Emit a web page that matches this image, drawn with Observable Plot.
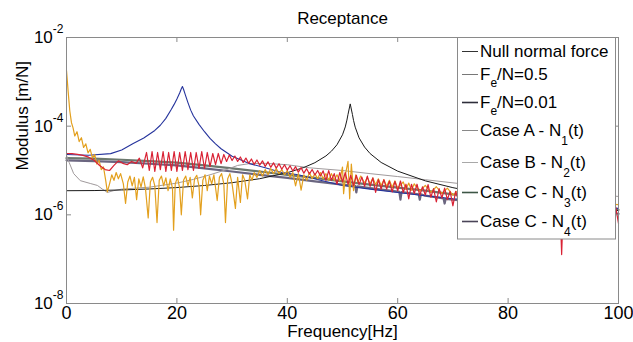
<!DOCTYPE html>
<html><head><meta charset="utf-8">
<script src="https://cdn.jsdelivr.net/npm/d3@7"></script>
<script src="https://cdn.jsdelivr.net/npm/@observablehq/plot@0.6"></script>
<style>
html,body{margin:0;padding:0;background:#fff;}
#chart{width:633px;height:342px;}
</style></head><body><div id="chart"></div>
<script>
// ---- data: [frequency Hz, modulus m/N] ----
const nullNormalForce = [[0,3.5e-6],[5,3.53e-6],[10,3.64e-6],[15,3.83e-6],[20,4.12e-6],[25,4.59e-6],[30,5.31e-6],[35,6.53e-6],[40,8.9e-6],[43,1.17e-5],[45,1.5e-5],[47,2.13e-5],[48,2.73e-5],[49,3.81e-5],[50,6.39e-5],[50.5,9.6e-5],[50.8,1.37e-4],[51,1.85e-4],[51.4,3.18e-4],[51.8,1.83e-4],[52,1.35e-4],[52.3,9.5e-5],[53,5.45e-5],[54,3.37e-5],[55,2.41e-5],[57,1.52e-5],[60,9.67e-6],[65,5.84e-6],[70,4.1e-6],[75,3.1e-6],[80,2.46e-6],[90,1.69e-6],[100,1.25e-6]];
const fe05 = [[0,2.2e-5],[0.5,1.5e-5],[1.3,8.5e-6],[2.5,5.9e-6],[4.3,5.1e-6],[5.6,4.6e-6],[6.5,3.8e-6],[7.4,3.2e-6],[8.5,3.5e-6],[10,3.8e-6],[15,4.2e-6],[20,5.2e-6],[23,6.3e-6],[26,8.0e-6],[29,1.05e-5],[31,1.3e-5],[33,1.42e-5],[36,1.45e-5],[40,1.35e-5],[44,1.15e-5],[50,1.0e-5],[55,8.5e-6],[60,7.3e-6],[65,6.2e-6],[71,5.1e-6],[80,4.0e-6],[90,3.2e-6],[100,2.6e-6]];
const fe001 = [[0,2.3e-5],[4,2.2e-5],[8,2.4e-5],[10,2.9e-5],[12,4.0e-5],[14,5.4e-5],[16,8.0e-5],[17,1.05e-4],[18,1.5e-4],[19,2.4e-4],[19.5,3.1e-4],[20,4.1e-4],[20.5,5.6e-4],[20.8,7.0e-4],[21,7.85e-4],[21.2,6.8e-4],[21.5,5.2e-4],[22,3.4e-4],[22.5,2.3e-4],[23,1.7e-4],[24,1.1e-4],[25,7.5e-5],[26,5.3e-5],[27,4.0e-5],[28,3.1e-5],[30,2.1e-5],[33,1.45e-5],[36,1.15e-5],[39,9.0e-6],[42,8.0e-6],[46,6.0e-6],[50,4.6e-6],[55,3.8e-6],[60,3.2e-6],[65,2.7e-6],[70,2.3e-6],[80,1.9e-6],[90,1.6e-6],[100,1.4e-6]];
const caseA = [[0,2.42e-5],[1,2.4e-5],[2,2.3e-5],[3,2.2e-5],[4,2.0e-5],[5,1.7e-5],[6,1.3e-5],[7,1.05e-5],[7.8,1.0e-5],[8.6,1.3e-5],[9.4,1.65e-5],[10.2,1.45e-5],[11,1.35e-5],[11.8,1.6e-5],[12.6,1.45e-5],[13.2,1.9e-5],[13.8,1.15e-5],
[14.5,2.55e-5],[15,1.0e-5],[15.5,2.68e-5],[16,9.5e-6],[16.5,2.55e-5],[17,1.05e-5],[17.5,2.68e-5],[18,9.5e-6],[18.5,2.55e-5],[19,1.0e-5],[19.5,2.68e-5],[20,9.5e-6],[20.5,2.55e-5],[21,1.0e-5],[21.5,2.68e-5],[22,1.05e-5],[22.5,2.55e-5],[23,1.0e-5],[23.5,2.55e-5],[24,1.11e-5],[24.5,2.68e-5],[25,1.11e-5],[25.5,2.55e-5],[26,1.23e-5],[26.5,2.42e-5],[27,1.36e-5],[27.5,2.42e-5],[28,1.43e-5],[28.5,2.3e-5],[29,1.6e-5],
[29.5,2.23e-5],[30,1.68e-5],[30.5,2.12e-5],[31,1.6e-5],[31.5,2.02e-5],[32,1.51e-5],[32.5,1.91e-5],[33,1.45e-5],[33.5,1.82e-5],[34,1.37e-5],[34.5,1.73e-5],[35,1.31e-5],[35.5,1.65e-5],[36,1.24e-5],[36.5,1.57e-5],[37,1.18e-5],[37.5,1.49e-5],[38,1.13e-5],[38.5,1.42e-5],[39,1.07e-5],[39.5,1.35e-5],[40,1.02e-5],[40.5,1.28e-5],[41,9.7e-6],[41.5,1.22e-5],[42,9.2e-6],[42.5,1.16e-5],[43,8.7e-6],[43.5,1.1e-5],[44,8.3e-6],[44.5,1.05e-5],[45,7.9e-6],[45.5,1.0e-5],[46,7.5e-6],
[46.5,9.8e-6],[47,6.0e-6],[47.5,9.9e-6],[48,6.0e-6],[48.5,8.5e-6],[49,4.9e-6],[49.5,9.0e-6],[50,5.5e-6],[50.5,9.0e-6],[51,4.9e-6],[51.5,7.8e-6],[52,4.5e-6],[52.5,7.8e-6],[53,4.8e-6],[53.5,7.1e-6],[54,4.4e-6],[54.5,7.5e-6],[55,4.4e-6],[55.5,6.8e-6],[56,3.2e-6],[56.5,6.2e-6],[57,3.8e-6],[57.5,6.2e-6],[58,3.8e-6],[58.5,5.7e-6],[59,3.3e-6],[59.5,5.7e-6],[60,3.5e-6],[60.5,5.8e-6],[61,3.2e-6],[61.5,4.9e-6],[62,2.3e-6],[62.5,4.9e-6],[63,3.0e-6],[63.5,4.9e-6],[64,2.75e-6],[64.5,4.3e-6],[65,2.8e-6],[65.5,4.8e-6],[66,2.5e-6],[66.5,3.9e-6],[67,1.95e-6],[67.5,3.9e-6],[68,2.4e-6],[68.5,4.0e-6],[69,2.2e-6],[69.5,3.4e-6],[70,1.6e-6],[70.5,3.4e-6],[71,2.1e-6],
[72,2.8e-6],[74,2.6e-6],[76,2.4e-6],[78,2.3e-6],[80,2.2e-6],[82,2.1e-6],[84,2.0e-6],[86,1.9e-6],[88,1.8e-6],[89.4,1.8e-6],[89.7,1.27e-7],[90,1.7e-6],[92,1.65e-6],[94,1.6e-6],[96,1.55e-6],[98,1.5e-6],[99.5,1.5e-6],[100,6.4e-7]];
const caseB = [[0,1.8e-3],[0.3,6.0e-4],[0.6,2.2e-4],[0.9,1.2e-4],[1.2,9.0e-5],[1.5,6.0e-5],[1.9,7.5e-5],[2.3,4.5e-5],[2.7,5.5e-5],[3.1,3.3e-5],[3.5,4.0e-5],[3.9,2.5e-5],[4.3,3.0e-5],[4.7,1.9e-5],[5.1,2.3e-5],[5.5,1.4e-5],[5.9,1.7e-5],[6.3,1.05e-5],[6.7,1.2e-5],[7.1,6.0e-6],[7.4,3.3e-6],[7.8,5.0e-6],[8.2,8.0e-6],[8.6,6.0e-6],[9.0,9.0e-6],[9.4,6.5e-6],[9.8,8.5e-6],[10.3,5.0e-6],[10.7,1.8e-6],[11.1,5.5e-6],[11.5,7.5e-6],[11.9,4.5e-6],[12.3,7.0e-6],[12.7,2.2e-6],[13.1,6.5e-6],[13.5,4.2e-6],[13.9,7.2e-6],[14.3,4.0e-6],[14.8,8.5e-7],[15.2,5.5e-6],[15.6,7.0e-6],[16.0,4.5e-6],[16.4,6.7e-7],[16.8,6.0e-6],[17.2,7.5e-6],[17.6,4.5e-6],[18.0,6.8e-6],[18.4,3.5e-6],[18.8,6.5e-6],[19.2,4.0e-6],[19.4,4.5e-7],[19.7,5.0e-6],[20.1,7.0e-6],[20.5,4.0e-6],[20.8,1.0e-6],[21.2,6.0e-6],[21.6,7.5e-6],[22.0,4.5e-6],[22.4,7.0e-6],[22.8,2.4e-6],[23.2,6.5e-6],[23.6,7.8e-6],[24.0,4.5e-6],[24.3,1.0e-6],[24.7,6.0e-6],[25.1,8.0e-6],[25.5,3.5e-6],[25.9,7.5e-6],[26.3,5.0e-6],[26.7,8.0e-6],[27.3,2.1e-6],[27.7,7.0e-6],[28.1,8.5e-6],[28.5,5.0e-6],[28.8,6.7e-7],[29.2,6.5e-6],[29.6,8.5e-6],[30.0,5.0e-6],[30.6,1.4e-6],[31.0,7.0e-6],[31.5,1.9e-6],[31.9,8.0e-6],[32.3,6.0e-6],[32.8,2.3e-6],[33.2,8.0e-6],[33.6,6.0e-6],[34.0,9.0e-6],[34.5,7.0e-6],[35.0,1.0e-5],[35.5,7.5e-6],[36.0,1.05e-5],[36.5,8.0e-6],[37.0,1.1e-5],[37.5,8.5e-6],[38.0,1.1e-5],[38.5,8.5e-6],[39.0,1.05e-5],[39.5,8.0e-6],[40.0,1.0e-5],[40.5,7.0e-6],[41.0,9.0e-6],[41.5,4.5e-6],[42.0,8.5e-6],[42.5,3.6e-6],[43.0,8.0e-6],[43.5,6.0e-6],[44.0,9.0e-6],[44.5,6.5e-6],[45.0,8.5e-6],[45.5,6.5e-6],[46.0,9.0e-6],[46.5,6.5e-6],[47.0,8.5e-6],[47.5,6.0e-6],[48.0,8.5e-6],[48.5,6.0e-6],[49.0,8.0e-6],[49.5,5.8e-6],[50.0,1.2e-5],[50.2,3.0e-6],[50.6,9.0e-6],[51.0,1.6e-5],[51.3,2.3e-6],[51.6,1.4e-5],[52.0,3.5e-6],[52.4,8.0e-6],[52.8,5.5e-6],[53.3,7.5e-6],[54.0,5.2e-6],[54.5,7.0e-6],[55.0,5.0e-6],[55.5,6.8e-6],[56.0,4.8e-6],[56.5,6.5e-6],[57.0,4.6e-6],[57.5,6.2e-6],[58.0,4.4e-6],[58.5,6.0e-6],[59.0,4.2e-6],[59.5,5.8e-6],[60.0,4.0e-6],[61.0,5.5e-6],[61.5,3.8e-6],[62.0,5.2e-6],[62.5,3.6e-6],[63.0,5.0e-6],[64.0,3.4e-6],[65.0,4.6e-6],[66.0,3.2e-6],[67.0,4.3e-6],[68.0,3.0e-6],[69.0,4.0e-6],[70.0,2.8e-6],[71.0,3.6e-6],[75,3.0e-6],[80,2.6e-6],[85,2.3e-6],[90,2.0e-6],[95,1.8e-6],[100,1.7e-6]];
const caseCN3 = [[0,1.9e-5],[5,1.85e-5],[10,1.75e-5],[15,1.62e-5],[20,1.5e-5],[25,1.3e-5],[30,1.12e-5],[35,9.5e-6],[40,8.0e-6],[45,6.8e-6],[50,5.7e-6],[55,4.8e-6],[60,4.1e-6],[65,3.5e-6],[70,2.9e-6],[80,2.2e-6],[90,1.7e-6],[100,1.3e-6]];
const caseCN4 = [[0,1.7e-5],[5,1.62e-5],[10,1.55e-5],[15,1.42e-5],[20,1.3e-5],[25,1.12e-5],[30,9.5e-6],[35,8.0e-6],[40,6.8e-6],[45,5.7e-6],[50,4.8e-6],[52.3,4.5e-6],[52.5,3.2e-6],[52.7,4.4e-6],[55,4.0e-6],[60,3.35e-6],[60.3,3.3e-6],[60.5,2.2e-6],[60.7,3.25e-6],[63.8,2.9e-6],[64,2.2e-6],[64.2,2.9e-6],[65,2.7e-6],[68.3,2.35e-6],[68.5,1.8e-6],[68.7,2.3e-6],[70,2.2e-6],[80,1.7e-6],[90,1.35e-6],[100,1.05e-6]];

const xTicks = [0, 20, 40, 60, 80, 100];
const yTicks = [1e-8, 1e-6, 1e-4, 1e-2];
const legendNames = ["Null normal force", "F_{e}/N=0.5", "F_{e}/N=0.01", "Case A - N_{1}(t)", "Case B - N_{2}(t)", "Case C - N_{3}(t)", "Case C - N_{4}(t)"];

const toRows = arr => arr.map(([f, m]) => ({f, m}));

const lineOpt = (stroke, strokeWidth) => ({x: "f", y: "m", stroke, strokeWidth, strokeLinejoin: "round"});

const FONT = "'Liberation Sans', Arial, sans-serif";
const W = 633, H = 342, ML = 66, MR = 15, MT = 37, MB = 39;
const plot = Plot.plot({
  width: W, height: H,
  marginLeft: ML, marginRight: MR, marginTop: MT, marginBottom: MB,
  style: {fontFamily: FONT, fontSize: "17px", background: "#fff", color: "#000"},
  x: {domain: [0, 100]},
  y: {type: "log", domain: [1e-8, 1e-2]},
  marks: [
    Plot.lineY(toRows(caseCN3), lineOpt("#6c786e", 2.2)),
    Plot.lineY(toRows(caseCN4), lineOpt("#6b6680", 2.2)),
    Plot.lineY(toRows(fe05), lineOpt("#a09a9c", 1)),
    Plot.lineY(toRows(nullNormalForce), lineOpt("#1a1a1a", 1)),
    Plot.lineY(toRows(fe001), lineOpt("#25339c", 1.1)),
    Plot.lineY(toRows(caseB), lineOpt("#e3a01e", 1.2)),
    Plot.lineY(toRows(caseA), lineOpt("#d92234", 1.2)),
    Plot.frame({stroke: "#8a8a8a"}),
    Plot.tickX(xTicks, {x: d => d, insetTop: H - MT - MB - 5, stroke: "#8a8a8a"}),
    Plot.tickX(xTicks, {x: d => d, insetBottom: H - MT - MB - 5, stroke: "#8a8a8a"}),
    Plot.tickY(yTicks, {y: d => d, insetRight: W - ML - MR - 5, stroke: "#8a8a8a"}),
    Plot.tickY(yTicks, {y: d => d, insetLeft: W - ML - MR - 5, stroke: "#8a8a8a"}),
    Plot.axisX({ticks: xTicks, tickSize: 0, tickPadding: 3, fontSize: 18, label: null, tickFormat: d => String(d)}),
    Plot.axisY({ticks: yTicks, tickSize: 0, tickPadding: 3, fontSize: 17, label: null, tickFormat: d => "10^" + Math.round(Math.log10(d))}),
    Plot.text(["Receptance"], {frameAnchor: "top", lineAnchor: "bottom", dy: -14, fontSize: 17}),
    Plot.text(["Frequency[Hz]"], {frameAnchor: "bottom", lineAnchor: "bottom", dy: 33, fontSize: 17}),
    Plot.text(["Modulus [m/N]"], {frameAnchor: "left", rotate: -90, dx: -44, fontSize: 17})
  ]
});
document.getElementById("chart").appendChild(plot);

// superscript exponents on the y tick labels
const svg = d3.select(plot);
svg.selectAll('g[aria-label="y-axis tick label"] text').each(function() {
  const s = this.textContent;
  if (s.indexOf("^") < 0) return;
  const [base, exp] = s.split("^");
  const t = d3.select(this);
  t.text(base);
  t.append("tspan").attr("dy", -10).attr("font-size", 12).text(exp);
});

// legend box (inside the plot, top right)
const lg = svg.append("g").attr("font-family", FONT).attr("font-size", 17).attr("text-anchor", "start");
lg.append("rect").attr("x", 457.5).attr("y", 37.5).attr("width", 158).attr("height", 201.5)
  .attr("fill", "#fff").attr("stroke", "#8a8a8a");
const baselines = [57, 80, 108, 136, 168, 198, 227];
const swatch = [["#333", 1], ["#777", 1], ["#2e2e3a", 1.6], ["#888", 1], ["#a8a8a8", 1], ["#3c5646", 1.6], ["#4a4458", 1.6]];
legendNames.forEach((name, i) => {
  const y = baselines[i];
  lg.append("line").attr("x1", 462).attr("x2", 478).attr("y1", y - 5.5).attr("y2", y - 5.5)
    .attr("stroke", swatch[i][0]).attr("stroke-width", swatch[i][1]);
  const t = lg.append("text").attr("x", 480).attr("y", y).attr("fill", "#000").attr("text-anchor", "start");
  const parts = name.split(/_\{([^}]*)\}/);
  let shift = 0;
  parts.forEach((p, k) => {
    if (p === "") return;
    if (k % 2 === 1) {
      const d = /[0-9]/.test(p) ? 9 : 7;
      t.append("tspan").attr("dy", d).attr("font-size", 12).text(p);
      shift = d;
    } else {
      const ts = t.append("tspan").text(p);
      if (shift) { ts.attr("dy", -shift); shift = 0; }
    }
  });
});
</script>
</body></html>
